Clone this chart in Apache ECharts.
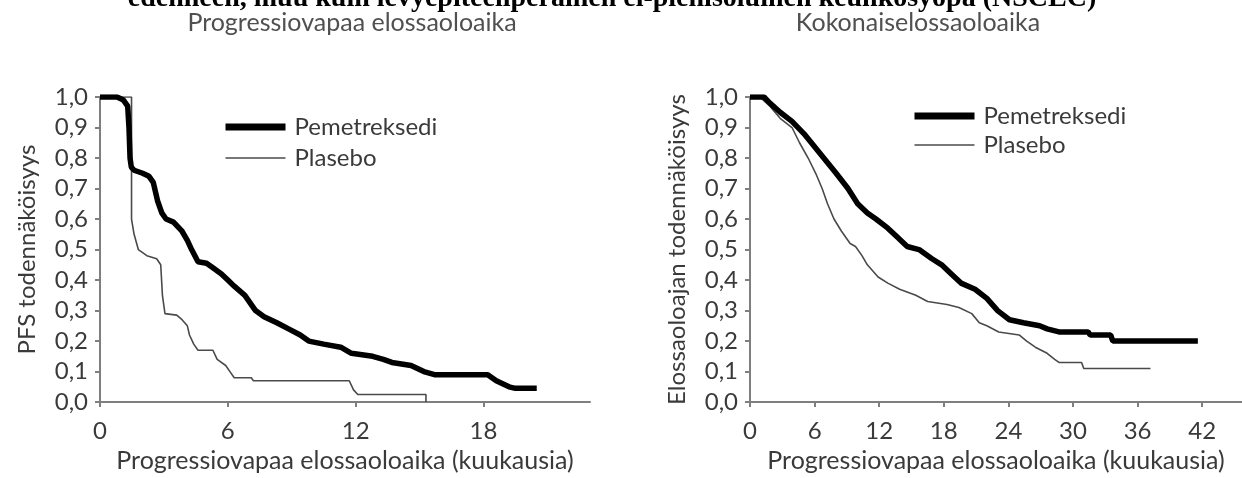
<!DOCTYPE html>
<html>
<head>
<meta charset="utf-8">
<script src="https://cdn.jsdelivr.net/npm/echarts@6/dist/echarts.min.js"></script>
<style>
html,body{margin:0;padding:0;background:#fff;}
#c{width:1242px;height:478px;}
</style>
</head>
<body>
<div id="c"></div>
<script>
// ---- data ----
const pageTitle = 'edenneen, muu kuin levyepiteeliperäinen ei-pienisoluinen keuhkosyöpä (NSCLC)';
const panelTitles = ['Progressiovapaa elossaoloaika', 'Kokonaiselossaoloaika'];
const seriesNames = ['Pemetreksedi', 'Plasebo'];
const yAxisNames = ['PFS todennäköisyys', 'Elossaoloajan todennäköisyys'];
const xAxisName = 'Progressiovapaa elossaoloaika (kuukausia)';
const pfsTicks = [0, 6, 12, 18];
const osTicks = [0, 6, 12, 18, 24, 30, 36, 42];

// [month, probability]
const pfsPemetreksedi = [[0,1],[0.8,1],[1.1,0.99],[1.3,0.97],[1.36,0.9],[1.41,0.8],[1.47,0.77],[1.6,0.76],[2.0,0.75],[2.3,0.74],[2.5,0.72],[2.7,0.66],[2.9,0.62],[3.1,0.60],[3.45,0.59],[3.85,0.56],[4.1,0.53],[4.3,0.50],[4.6,0.46],[5.0,0.455],[5.3,0.44],[5.7,0.42],[6.0,0.40],[6.3,0.38],[6.8,0.35],[7.3,0.30],[7.7,0.28],[8.3,0.26],[8.85,0.24],[9.4,0.22],[9.8,0.20],[10.5,0.19],[11.3,0.18],[11.8,0.16],[12.8,0.15],[13.3,0.14],[13.7,0.13],[14.6,0.12],[15.2,0.10],[15.7,0.09],[18.2,0.09],[18.6,0.07],[19.2,0.05],[19.5,0.045],[20.5,0.045]];
const pfsPlasebo = [[0,1],[1.48,1],[1.48,0.6],[1.6,0.55],[1.8,0.5],[2.2,0.48],[2.66,0.47],[2.85,0.45],[2.93,0.35],[3.05,0.29],[3.6,0.285],[3.85,0.27],[4.1,0.25],[4.2,0.22],[4.4,0.19],[4.6,0.17],[5.3,0.17],[5.5,0.14],[5.9,0.12],[6.1,0.10],[6.3,0.08],[7.1,0.08],[7.2,0.07],[11.7,0.07],[11.9,0.04],[12.1,0.025],[15.3,0.025],[15.3,0]];
const osPemetreksedi = [[0,1],[1.3,1],[1.85,0.98],[2.8,0.95],[3.9,0.92],[5.0,0.88],[5.7,0.85],[6.85,0.80],[8.0,0.75],[9.1,0.70],[10.0,0.65],[10.9,0.62],[11.7,0.60],[12.8,0.57],[13.7,0.54],[14.6,0.51],[15.7,0.50],[16.9,0.47],[17.8,0.45],[18.7,0.42],[19.6,0.39],[20.9,0.37],[22.0,0.34],[23.0,0.30],[24.1,0.27],[25.4,0.26],[26.9,0.25],[27.6,0.24],[28.7,0.23],[31.4,0.23],[31.6,0.22],[33.5,0.22],[33.7,0.20],[41.6,0.20]];
const osPlasebo = [[0,1],[0.9,1],[1.85,0.97],[2.8,0.93],[3.9,0.90],[4.6,0.85],[5.4,0.80],[6.1,0.75],[6.7,0.70],[7.2,0.65],[7.8,0.60],[8.5,0.56],[9.3,0.52],[9.8,0.51],[10.4,0.48],[10.9,0.45],[11.9,0.41],[12.8,0.39],[13.9,0.37],[15.4,0.35],[16.5,0.33],[18.3,0.32],[19.4,0.31],[20.6,0.29],[21.3,0.26],[22.0,0.25],[23.1,0.23],[25.0,0.22],[25.7,0.20],[26.5,0.18],[27.6,0.16],[28.3,0.14],[28.7,0.13],[30.8,0.13],[31.0,0.11],[37.2,0.11]];

// ---- styling ----
const FONT = 'Lato, "Open Sans", sans-serif';
const txt = '#3a3a3a';
const axisCol = '#7f7f7f';
const PEM_W = 5.5, PLA_W = 1.6;

function xAxis(gi, max, ticks) {
  return {
    gridIndex: gi, type: 'value', min: 0, max: max, interval: 6,
    axisLine: {lineStyle: {color: axisCol, width: 2}},
    axisTick: {customValues: ticks, length: 5, lineStyle: {color: axisCol, width: 2}},
    axisLabel: {customValues: ticks, color: txt, fontFamily: FONT, fontSize: 24, margin: 17},
    splitLine: {show: false},
    name: xAxisName, nameLocation: 'middle', nameGap: 41,
    nameTextStyle: {color: txt, fontFamily: FONT, fontSize: 25}
  };
}
function yAxis(gi, name) {
  return {
    gridIndex: gi, type: 'value', min: 0, max: 1, interval: 0.1,
    axisLine: {show: true, lineStyle: {color: axisCol, width: 2}},
    axisTick: {show: true, length: 5, lineStyle: {color: axisCol, width: 2}},
    axisLabel: {color: txt, fontFamily: FONT, fontSize: 24, margin: 12,
      formatter: v => v.toFixed(1).replace('.', ',')},
    splitLine: {show: false},
    name: name, nameLocation: 'middle', nameGap: 61, nameRotate: 90,
    nameTextStyle: {color: txt, fontFamily: FONT, fontSize: 24}
  };
}
function line(name, data, gi) {
  const thick = name === seriesNames[0];
  const col = thick ? '#000000' : '#4a4a4a';
  return {
    type: 'line', name: name, data: data, xAxisIndex: gi, yAxisIndex: gi,
    showSymbol: false, symbol: 'none', animation: false,
    lineStyle: {color: col, width: thick ? PEM_W : PLA_W},
    itemStyle: {color: col}
  };
}
function legend(left, top, gap) {
  return {
    data: [
      {name: seriesNames[0], lineStyle: {width: 7}},
      {name: seriesNames[1], lineStyle: {width: PLA_W}}
    ],
    orient: 'vertical', left: left, top: top,
    itemWidth: 60, itemHeight: 10, itemGap: gap,
    itemStyle: {opacity: 0, borderWidth: 0},
    textStyle: {color: txt, fontFamily: FONT, fontSize: 24, lineHeight: 24, padding: [0, 0, 0, 4]},
    selectedMode: false
  };
}

const chart = echarts.init(document.getElementById('c'), null, {renderer: 'canvas'});
chart.setOption({
  backgroundColor: '#ffffff',
  animation: false,
  grid: [
    {left: 100, top: 97, width: 490, height: 308},
    {left: 750, top: 97, right: 0, height: 308}
  ],
  xAxis: [xAxis(0, 23, pfsTicks), xAxis(1, 45.7, osTicks)],
  yAxis: [yAxis(0, yAxisNames[0]), yAxis(1, yAxisNames[1])],
  legend: [legend(217, 110, 7), legend(906, 99, 5)],
  series: [
    line(seriesNames[1], pfsPlasebo, 0),
    line(seriesNames[0], pfsPemetreksedi, 0),
    line(seriesNames[1], osPlasebo, 1),
    line(seriesNames[0], osPemetreksedi, 1)
  ],
  graphic: [
    {type: 'text', x: 612, y: -1, style: {text: pageTitle, font: 'bold 28px "Liberation Serif", serif', fill: '#000', align: 'center', verticalAlign: 'middle'}},
    {type: 'text', x: 352, y: 23, style: {text: panelTitles[0], font: '25px ' + FONT, fill: '#505050', align: 'center', verticalAlign: 'middle'}},
    {type: 'text', x: 918, y: 23, style: {text: panelTitles[1], font: '25px ' + FONT, fill: '#505050', align: 'center', verticalAlign: 'middle'}}
  ]
});
</script>
</body>
</html>
